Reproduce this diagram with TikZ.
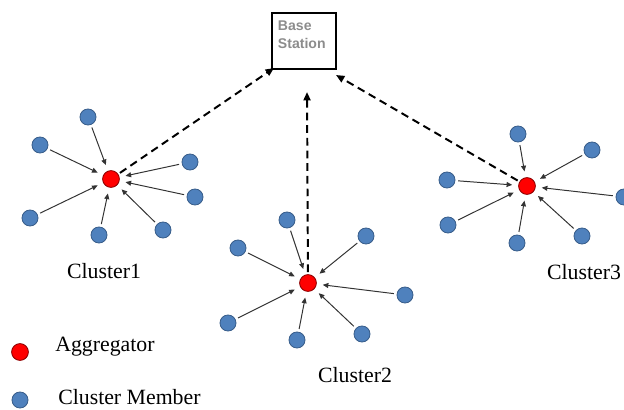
\documentclass[tikz,border=0pt]{standalone}
\usepackage{fontspec}
\setmainfont{Liberation Serif}
\newfontfamily\bsfont{Liberation Sans}
\usetikzlibrary{arrows.meta}
\definecolor{mblue}{HTML}{4F81BD}
\definecolor{mline}{HTML}{385D8A}
\definecolor{ared}{HTML}{FF0000}
\definecolor{aline}{HTML}{8B0000}
\definecolor{lgrey}{HTML}{333333}
\definecolor{tgrey}{HTML}{8C8C8C}
\tikzset{
  every picture/.style={x=0.025cm, y=-0.025cm},
  member/.style={circle, draw=mline, fill=mblue, line width=0.6pt, minimum size=0.4cm, inner sep=0pt},
  agg/.style={circle, draw=aline, fill=ared, line width=0.6pt, minimum size=0.42cm, inner sep=0pt},
  feed/.style={-{Triangle[length=4pt, width=3.5pt]}, draw=lgrey, line width=0.7pt, shorten >=0.15cm, shorten <=0.07cm},
  uplink/.style={-{Triangle[length=6pt, width=5pt]}, draw=black, line width=1.4pt, dash pattern=on 5.5pt off 3.5pt, shorten <=0.05cm},
  label/.style={font=\fontsize{15.5}{18}\selectfont, anchor=base, inner sep=0pt},
  station/.style={draw, line width=0.8pt, minimum width=1.6cm, minimum height=1.4cm, inner sep=0pt},
}
\begin{document}
\begin{tikzpicture}
  \useasboundingbox (0,0) rectangle (624,409);
  \node[station] (bs) at (304,41) {};
  \node[font=\bsfont\bfseries\fontsize{10}{12.5}\selectfont, text=tgrey, align=left, anchor=north west] (bstext) at (273,16) {Base\\Station};
  % cluster 1
  \node[agg] (a1) at (111,179) {};
  \node[member] (m11) at (88,117) {};
  \node[member] (m12) at (40,145) {};
  \node[member] (m13) at (190,162) {};
  \node[member] (m14) at (195,197) {};
  \node[member] (m15) at (30,218) {};
  \node[member] (m16) at (99,235) {};
  \node[member] (m17) at (163,230) {};
  \foreach \m in {m11,m12,m13,m14,m15,m16,m17} \draw[feed] (\m) -- (a1);
  \node[label] (c1) at (104,278) {Cluster1};
  % cluster 2
  \node[agg] (a2) at (308,283) {};
  \node[member] (m21) at (287,220) {};
  \node[member] (m22) at (238,248) {};
  \node[member] (m23) at (366,236) {};
  \node[member] (m24) at (405,295) {};
  \node[member] (m25) at (228,323) {};
  \node[member] (m26) at (297,340) {};
  \node[member] (m27) at (362,334) {};
  \foreach \m in {m21,m22,m23,m24,m25,m26,m27} \draw[feed] (\m) -- (a2);
  \node[label] (c2) at (355,382) {Cluster2};
  % cluster 3
  \node[agg] (a3) at (527,186) {};
  \node[member] (m31) at (518,134) {};
  \node[member] (m32) at (592,150) {};
  \node[member] (m33) at (447,180) {};
  \node[member] (m34) at (624,197) {};
  \node[member] (m35) at (448,225) {};
  \node[member] (m36) at (517,243) {};
  \node[member] (m37) at (582,236) {};
  \foreach \m in {m31,m32,m33,m34,m35,m36,m37} \draw[feed] (\m) -- (a3);
  \node[label] (c3) at (584,279) {Cluster3};
  % uplinks
  \coordinate (in1) at (274,68);
  \coordinate (in2) at (307,92);
  \coordinate (in3) at (336,75);
  \draw[uplink] (a1) -- (in1);
  \draw[uplink] (a2) -- (in2);
  \draw[uplink] (a3) -- (in3);
  % legend
  \node[agg] (la) at (20,352) {};
  \node[label, anchor=base west] (lat) at (55,351) {Aggregator};
  \node[member] (lm) at (20,400) {};
  \node[label, anchor=base west] (lmt) at (58,404) {Cluster Member};
\end{tikzpicture}
\end{document}
